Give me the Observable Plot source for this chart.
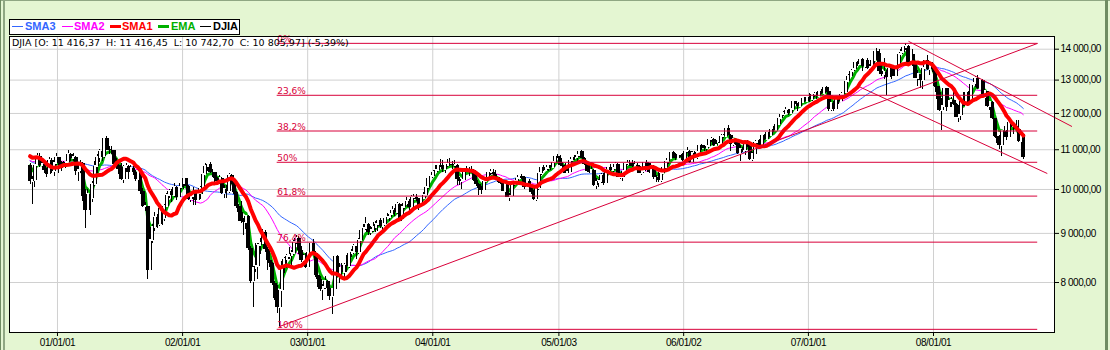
<!DOCTYPE html>
<html><head><meta charset="utf-8">
<script src="https://cdn.jsdelivr.net/npm/d3@7"></script>
<script src="https://cdn.jsdelivr.net/npm/@observablehq/plot@0.6"></script>
<style>
html,body{margin:0;padding:0;background:#e4f6d2;}
#wrap{position:relative;width:1110px;height:350px;overflow:hidden;font-family:"Liberation Sans",Arial,sans-serif;}
#chart{position:absolute;left:0;top:0;}
#chart svg [aria-label^="x-axis"] text, #chart svg [aria-label^="y-axis"] text{letter-spacing:-0.45px;}
.lg{position:absolute;font:bold 11px "Liberation Sans",Arial,sans-serif;line-height:11px;white-space:pre;}
.sw{position:absolute;height:1px;}
#legend{position:absolute;left:9px;top:19px;width:229px;height:14px;border:1px solid #000;background:#fff;}
#hdr{position:absolute;left:12px;top:38px;font:9.5px "DejaVu Sans",sans-serif;line-height:10px;white-space:pre;color:#000;}
#edgeL1{position:absolute;left:0;top:0;width:1px;height:350px;background:#6f8c62;}
#edgeL2{position:absolute;left:3px;top:0;width:2px;height:350px;background:#8fa783;}
#edgeT{position:absolute;left:0;top:0;width:1110px;height:1px;background:#8fa783;}
#edgeR{position:absolute;left:1105px;top:0;width:3px;height:350px;background:#6f8c62;}
</style></head><body><div id="wrap"><div id="edgeT"></div><div id="edgeL1"></div><div id="edgeL2"></div><div id="edgeR"></div><div id="chart"></div>
<div id="legend"></div><div id="hdr"></div></div>
<script>
// ---- data (weekly DJIA, weeks ending Friday) ----
const firstWeek = "2000-10-13";
const lastWeek = "2008-09-19";
// closes before the first drawn candle (used only to seed the moving averages)
const preCloses = [11522,11723,11252,10739,11003,10426,10220,9863,10367,9929,10595,11113,10922,11112,10306,10844,10734,10578,10609,10627,10300,10794,10615,10449,10404,10448,10636,10813,10733,10512,10767,10908,11046,11193,11238,11195,10927,10847,10651,10596];
const closes = [
10192,10226,10590,10817,10603,10629,10470,10373,10712,10434,10635,10787,
10662,10525,10587,10659,10865,10781,10799,10441,10466,10644,9823,9505,9879,9791,10127,10579,10810,10951,10821,11301,11006,10990,10977,10623,10604,10502,10252,10539,10577,10417,10512,10416,10240,10423,9950,9605,9606,8236,8848,9120,9344,9205,9545,9324,9608,9867,9960,9852,10049,9812,10036,10137,
10260,10068,9772,9841,9908,9745,9904,10024,10369,10572,10608,10427,10404,10271,10191,10257,9910,10006,9940,10353,10216,9925,9589,9474,9253,9243,9380,8684,8019,8264,8313,8745,8778,9023,8664,8428,8380,7987,7701,7529,7850,8323,8444,8518,8537,8579,8805,8896,8645,8433,8512,8303,
8601,8785,8586,8131,8054,7864,7909,8018,7891,7741,7859,8522,8145,8278,8204,8338,8307,8583,8604,8713,8601,8850,9062,9117,9201,9011,9070,9119,9188,9285,9153,9191,9321,9348,9416,9503,9471,9645,9313,9573,9674,9722,9583,9801,9810,9768,9629,9782,9863,10042,10278,10305,
10409,10458,10600,10568,10488,10593,10628,10620,10584,10596,10240,10186,10213,10470,10442,10452,10472,10226,10118,10012,9967,10188,10243,10410,10417,10371,10283,10214,10140,9962,10140,9815,9826,10111,10196,10260,10314,10285,10047,10193,10055,9933,9758,10027,10387,10540,10456,10522,10592,10543,10661,10828,10783,
10603,10559,10393,10428,10716,10796,10785,10841,10941,10774,10630,10442,10404,10461,10088,10157,10193,10345,10140,10471,10542,10460,10513,10623,10297,10303,10449,10641,10652,10641,10558,10600,10560,10397,10447,10679,10641,10419,10569,10292,10287,10215,10403,10531,10686,10766,10931,10877,10778,10876,10884,10718,
10959,10960,10667,10908,10794,10920,11116,11062,11022,11076,11280,11280,11109,11121,11138,11348,11367,11578,11380,11144,11278,11248,10892,11015,10990,11150,11091,10739,10868,11186,11240,11088,11382,11284,11465,11393,11560,11509,11679,11851,11961,12002,12091,11987,12109,12343,12280,12194,12307,12446,12344,12463,
12398,12556,12565,12487,12653,12580,12768,12647,12114,12276,12110,12481,12354,12560,12612,12961,13120,13265,13327,13557,13507,13668,13425,13640,13361,13409,13612,13908,13851,13266,13182,13240,13079,13379,13358,13114,13443,13821,13896,14066,14093,13522,13807,13595,13043,13177,12981,13372,13626,13340,13451,13366,
12800,12606,12099,12207,12743,12183,12349,12382,12266,11894,11951,12361,12216,12610,12325,12849,12891,13058,12745,12986,12480,12638,12209,12307,11843,11347,11288,11100,11496,11371,11326,11734,11659,11628,11544,11220,11422,10805.97];
const highs = [
10650,10320,10630,10900,10900,10760,10650,10520,10800,10760,10670,10900,
10800,10700,10700,10740,10980,10900,10900,10820,10560,10720,10660,9990,10000,9950,10200,10690,10880,11010,11000,11340,11350,11090,11090,10990,10770,10680,10640,10600,10650,10580,10600,10560,10470,10480,10440,10030,9700,9610,8890,9200,9460,9420,9570,9560,9640,9900,9990,9990,10140,10060,10070,10170,
10300,10270,10090,9880,10040,9920,9950,10060,10390,10640,10640,10670,10500,10420,10300,10330,10290,10090,10100,10390,10370,10250,9960,9640,9710,9330,9400,9400,8720,8310,8780,8790,8880,9080,9070,8700,8620,8400,8010,7940,7860,8420,8500,8560,8700,8640,8850,8950,8930,8730,8560,8580,
8620,8800,8870,8620,8200,8110,7960,8110,8040,7930,7880,8540,8530,8380,8370,8380,8530,8600,8650,8760,8720,8880,9080,9200,9340,9220,9150,9230,9250,9300,9320,9200,9360,9440,9430,9600,9560,9690,9670,9600,9700,9800,9760,9850,9880,9870,9790,9800,9930,10060,10300,10350,
10460,10600,10620,10750,10710,10620,10740,10760,10700,10720,10620,10300,10250,10520,10560,10550,10570,10490,10340,10140,10060,10210,10270,10420,10480,10500,10460,10290,10260,10170,10170,10200,9900,10130,10220,10330,10350,10360,10310,10210,10250,10100,9980,10050,10400,10560,10580,10540,10600,10600,10700,10830,10870,
10860,10660,10640,10490,10720,10820,10840,10860,10960,10980,10810,10640,10600,10570,10490,10260,10250,10390,10390,10490,10560,10620,10580,10660,10640,10360,10470,10660,10720,10720,10720,10700,10640,10580,10490,10690,10710,10650,10590,10590,10350,10420,10420,10560,10700,10780,10940,10950,10900,10900,10900,10900,
10990,11050,10980,10950,10950,10940,11130,11150,11100,11100,11290,11330,11310,11240,11180,11400,11420,11600,11670,11400,11300,11300,11250,11100,11060,11200,11260,11140,10920,11200,11280,11270,11400,11400,11480,11500,11580,11640,11720,11870,11990,12050,12170,12120,12130,12360,12360,12300,12340,12480,12480,12510,
12580,12560,12620,12620,12690,12700,12790,12800,12690,12330,12340,12490,12490,12580,12640,12980,13170,13290,13360,13570,13590,13690,13700,13660,13700,13500,13630,13930,14021,14000,13470,13680,13300,13400,13420,13460,13470,13860,14000,14090,14198,14110,13850,13990,13600,13300,13190,13400,13660,13780,13470,13560,
13370,12870,12790,12450,12770,12750,12560,12470,12770,12290,12240,12420,12620,12660,12660,12860,12920,13100,13140,13030,13020,12660,12660,12350,12340,11870,11440,11380,11510,11640,11530,11760,11810,11700,11790,11790,11480,11416.45];
const lows = [
10130,9654,10050,10560,10550,10480,10400,10290,10330,10400,10320,10600,
10400,10430,10480,10550,10640,10700,10700,10350,10200,10380,9720,9106,9480,9390,9700,10070,10400,10660,10700,10780,10980,10880,10880,10560,10500,10370,10220,10150,10420,10240,10380,10330,10190,10160,9880,9580,9480,8062,8220,8780,9040,9110,9140,9180,9270,9580,9780,9700,9800,9730,9780,10010,
10000,10020,9740,9700,9620,9630,9720,9760,9890,10350,10440,10400,10290,10180,10090,10130,9880,9790,9780,9900,10130,9880,9560,9260,9220,8960,9080,8630,7990,7532,8200,8060,8550,8760,8600,8240,8290,7940,7660,7430,7197,7800,8180,8280,8450,8300,8560,8770,8560,8400,8320,8280,
8280,8540,8570,8100,7900,7830,7670,7860,7740,7670,7416,7840,8090,7990,8130,8100,8200,8280,8490,8560,8450,8560,8840,9040,9110,8950,8960,9010,9020,9040,9110,9000,9180,9300,9270,9410,9380,9420,9300,9260,9540,9640,9480,9570,9740,9710,9500,9600,9760,9830,10000,10250,
10280,10400,10410,10540,10410,10400,10550,10560,10500,10550,10100,10100,10000,10190,10420,10320,10400,10200,10080,9850,9880,9950,10100,10230,10330,10340,10260,10160,10110,9940,9920,9800,9710,9810,10060,10160,10240,10230,10000,10030,10040,9880,9730,9710,9980,10350,10440,10440,10430,10470,10540,10640,10760,
10560,10480,10380,10360,10420,10660,10720,10610,10790,10760,10600,10430,10400,10380,10070,10010,10050,10180,10100,10130,10440,10440,10420,10500,10280,10240,10200,10440,10580,10570,10530,10500,10520,10380,10340,10440,10570,10390,10410,10230,10160,10160,10180,10390,10500,10620,10760,10800,10730,10740,10800,10700,
10700,10900,10650,10640,10760,10750,10900,10990,10950,10930,11050,11200,11090,11080,10990,11100,11300,11360,11370,10950,11080,11110,10870,10706,10940,10850,11060,10710,10683,10850,11120,11060,11070,11260,11270,11320,11380,11470,11500,11660,11820,11900,11990,11950,11970,12100,12250,12050,12160,12300,12330,12330,
12330,12360,12480,12420,12460,12560,12550,12620,12050,12050,12070,12100,12250,12340,12500,12600,12920,13080,13180,13290,13420,13480,13270,13410,13340,13260,13400,13500,13800,13160,13100,13020,12518,13050,13020,13100,13110,13400,13750,13880,13950,13500,13460,13440,13040,12800,12740,12720,13250,13290,13130,13250,
12780,12410,12070,11508,12180,12070,12150,12170,12240,11880,11731,11800,12190,12190,12300,12290,12700,12760,12700,12740,12460,12430,12170,12100,11820,11330,11170,11000,10827,11320,11250,11300,11600,11400,11500,11200,11200,10742.70];

// moving-average periods (weeks)
const sma1Period = 13, sma2Period = 26, sma3Period = 40, emaPeriod = 5;

// Fibonacci retracement (from the 2002 low to the 2007 high)
const fibHigh = 14198, fibLow = 7150;
const fibRatios = [0, 0.236, 0.382, 0.5, 0.618, 0.764, 1];
const fibLabels = ["0%", "23,6%", "38,2%", "50%", "61,8%", "76,4%", "100%"];
const fibFrom = "2002-10-04", fibTo = "2008-10-31";

// trend lines: start date/value, end date/value
const trendX1 = ["2002-10-10", "2007-10-20", "2007-05-28"];
const trendY1 = [7197, 14268, 12802];
const trendX2 = ["2008-10-31", "2009-02-08", "2008-11-28"];
const trendY2 = [14198, 11630, 10390];

// axes
const xTicks = ["2001-01-01","2002-01-01","2003-01-01","2004-01-01","2005-01-03","2006-01-02","2007-01-01","2008-01-01"];
const xTickLabels = ["01/01/01","02/01/01","03/01/01","04/01/01","05/01/03","06/01/02","07/01/01","08/01/01"];
const yTicks = [8000, 9000, 10000, 11000, 12000, 13000, 14000];
const yTickLabels = ["8 000,00","9 000,00","10 000,00","11 000,00","12 000,00","13 000,00","14 000,00"];
const xDomain = ["2000-08-14", "2008-12-19"];
const yDomain = [7096, 14433];

const headerText = "DJIA [O: 11 416,37  H: 11 416,45  L: 10 742,70  C: 10 805,97] (-5,39%)";
const legendItems = [
  {name: "SMA3", color: "#3366ff", thick: false, lx: 12, tx: 25},
  {name: "SMA2", color: "#ff00ff", thick: false, lx: 62, tx: 74},
  {name: "SMA1", color: "#ff0000", thick: true, lx: 110, tx: 122},
  {name: "EMA",  color: "#00b000", thick: true, lx: 158, tx: 171},
  {name: "DJIA", color: "#000000", thick: false, lx: 200, tx: 213}
];

// ---- build table ----
const dates = d3.utcFriday.range(new Date(firstWeek), d3.utcDay.offset(new Date(lastWeek), 1));
const allCloses = preCloses.concat(closes);
const P = preCloses.length;
function sma(k, i) { const a = allCloses.slice(Math.max(0, i - k + 1), i + 1); return d3.mean(a); }
const emaAll = [];
allCloses.forEach((c, i) => { emaAll.push(i === 0 ? c : emaAll[i - 1] + (2 / (emaPeriod + 1)) * (c - emaAll[i - 1])); });
const data = closes.map((c, i) => ({
  date: dates[i],
  open: allCloses[P + i - 1],
  close: c,
  high: Math.max(highs[i], c, allCloses[P + i - 1]),
  low: Math.min(lows[i], c, allCloses[P + i - 1]),
  sma1: sma(sma1Period, P + i),
  sma2: sma(sma2Period, P + i),
  sma3: sma(sma3Period, P + i),
  ema: emaAll[P + i]
}));
const up = data.filter(d => d.close >= d.open);
const fib = fibRatios.map((r, i) => ({value: fibHigh - r * (fibHigh - fibLow), label: fibLabels[i], x1: new Date(fibFrom), x2: new Date(fibTo)}));
const trends = trendX1.map((x, i) => ({x1: new Date(x), y1: trendY1[i], x2: new Date(trendX2[i]), y2: trendY2[i]}));
const xTickDates = xTicks.map(d => new Date(d));
const xLabelMap = new Map(xTickDates.map((d, i) => [+d, xTickLabels[i]]));
const yLabelMap = new Map(yTicks.map((v, i) => [v, yTickLabels[i]]));
const FIB = "#d8003a";

const chart = Plot.plot({
  width: 1110, height: 350,
  marginLeft: 9, marginRight: 56, marginTop: 36, marginBottom: 18,
  style: {background: "transparent", fontFamily: "'Liberation Sans', Arial, sans-serif", fontSize: "10px", color: "#000"},
  x: {type: "utc", domain: xDomain.map(d => new Date(d)), ticks: xTickDates, tickFormat: d => xLabelMap.get(+d), tickSize: 4, tickPadding: 2, label: null},
  y: {type: "log", domain: yDomain, axis: "right", ticks: yTicks, tickFormat: d => yLabelMap.get(d), tickSize: 4, tickPadding: 2, label: null},
  marks: [
    Plot.frame({fill: "white"}),
    Plot.ruleY(yTicks, {stroke: "#d0d0d0"}),
    Plot.ruleX(xTickDates, {stroke: "#d0d0d0"}),
    Plot.lineY(data, {x: "date", y: "sma3", stroke: "#3366ff", strokeWidth: 1}),
    Plot.lineY(data, {x: "date", y: "sma2", stroke: "#ff00ff", strokeWidth: 1}),
    Plot.lineY(data, {x: "date", y: "ema", stroke: "#00b000", strokeWidth: 3}),
    Plot.ruleX(data, {x: "date", y1: "low", y2: "high", stroke: "#000", strokeWidth: 1, shapeRendering: "crispEdges"}),
    Plot.ruleX(data, {x: "date", y1: "open", y2: "close", stroke: "#000", strokeWidth: 4, shapeRendering: "crispEdges"}),
    Plot.ruleX(up, {x: "date", y1: "open", y2: "close", stroke: "#fff", strokeWidth: 2, insetTop: 1, insetBottom: 1, shapeRendering: "crispEdges"}),
    Plot.lineY(data, {x: "date", y: "sma1", stroke: "#ff0000", strokeWidth: 4}),
    Plot.ruleY(fib, {y: "value", x1: "x1", x2: "x2", stroke: FIB, strokeWidth: 1}),
    Plot.text(fib, {x: "x1", y: "value", text: "label", textAnchor: "start", lineAnchor: "bottom", dy: -1, fill: FIB, fontFamily: "'DejaVu Sans', sans-serif", fontSize: 9}),
    Plot.link(trends, {x1: "x1", y1: "y1", x2: "x2", y2: "y2", stroke: FIB, strokeWidth: 1}),
    Plot.frame({stroke: "#000"})
  ]
});
document.getElementById("chart").appendChild(chart);

// legend + header
const lg = document.getElementById("legend");
legendItems.forEach(it => {
  const sw = document.createElement("div");
  sw.className = "sw";
  sw.style.left = (it.lx - 10) + "px";
  sw.style.top = (it.thick ? 5 : 6) + "px";
  sw.style.width = "11px";
  sw.style.height = (it.thick ? 3 : 1) + "px";
  sw.style.background = it.color;
  lg.appendChild(sw);
  const t = document.createElement("div");
  t.className = "lg";
  t.style.left = (it.tx - 10) + "px";
  t.style.top = "1px";
  t.style.color = it.color;
  t.textContent = it.name;
  lg.appendChild(t);
});
document.getElementById("hdr").textContent = headerText;
</script></body></html>
